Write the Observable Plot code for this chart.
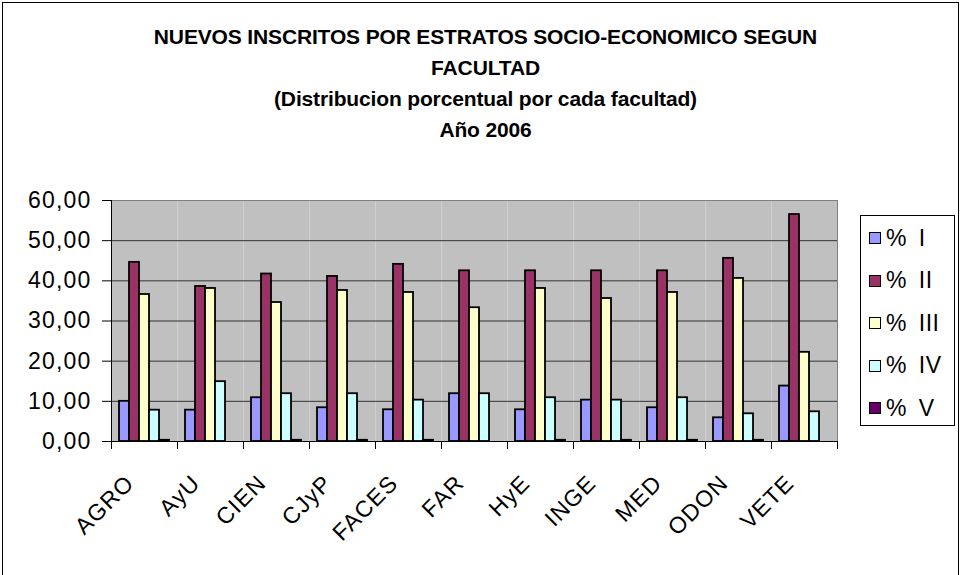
<!DOCTYPE html>
<html>
<head>
<meta charset="utf-8">
<script src="https://cdn.jsdelivr.net/npm/d3@7"></script>
<script src="https://cdn.jsdelivr.net/npm/@observablehq/plot@0.6"></script>
<style>
  body { margin: 0; background: #fff; }
  #wrap { position: relative; width: 963px; height: 575px; overflow: hidden; background: #fff;
          font-family: Arial, "Liberation Sans", sans-serif; color: #000; }
  #plot { position: absolute; left: 0; top: 0; }
  #border { position: absolute; left: 2px; top: 2px; width: 957px; height: 620px;
            border: 1px solid #000; box-sizing: border-box; pointer-events: none; }
  #title { position: absolute; left: 4px; top: 21px; width: 963px; text-align: center;
           font-weight: bold; font-size: 21px; line-height: 31px; letter-spacing: -0.15px; }
  #legend { position: absolute; left: 860px; top: 215px; width: 95px; height: 211px;
            border: 1px solid #000; box-sizing: border-box; padding-top: 1px; background: #fff; }
  .item { height: 42.5px; display: flex; align-items: center; padding-left: 8px;
          font-size: 23px; letter-spacing: 0.5px; word-spacing: 5px; white-space: nowrap; }
  .sw { width: 10px; height: 10px; border: 1px solid #000; margin-right: 5px; flex: none; }
</style>
</head>
<body>
<div id="wrap">
  <div id="plot"></div>
  <div id="title"></div>
  <div id="legend"></div>
  <div id="border"></div>
</div>
<script>
// ---- data ----
const titleLines = [
  "NUEVOS INSCRITOS POR ESTRATOS SOCIO-ECONOMICO SEGUN",
  "FACULTAD",
  "(Distribucion porcentual por cada facultad)",
  "Año 2006"
];
const categories = ["AGRO", "AyU", "CIEN", "CJyP", "FACES", "FAR", "HyE", "INGE", "MED", "ODON", "VETE"];
const series = ["% I", "% II", "% III", "% IV", "% V"];
const pctI   = [10.0, 7.8, 10.9, 8.4, 7.9, 11.9, 7.9, 10.3, 8.4, 5.9, 13.8];
const pctII  = [44.6, 38.6, 41.7, 41.1, 44.1, 42.5, 42.5, 42.5, 42.5, 45.6, 56.5];
const pctIII = [36.6, 38.1, 34.6, 37.6, 37.1, 33.3, 38.1, 35.6, 37.1, 40.6, 22.2];
const pctIV  = [7.8, 14.9, 11.9, 11.9, 10.3, 11.9, 10.9, 10.3, 10.9, 6.9, 7.4];
const pctV   = [0.3, 0, 0.3, 0.3, 0.3, 0, 0.3, 0.3, 0.3, 0.3, 0];
const yTicks = [0, 10, 20, 30, 40, 50, 60];
const colors = ["#9999FF", "#993366", "#FFFFCC", "#CCFFFF", "#660066"];

const seriesValues = [pctI, pctII, pctIII, pctIV, pctV];
const rows = categories.flatMap((c, i) =>
  series.map((s, j) => ({cat: c, series: s, value: seriesValues[j][i]}))
).filter(d => d.value > 0);

const fmt = d => d.toFixed(2).replace(".", ",");

const W = 963, H = 575, mL = 110, mR = 125, mT = 200, mB = 134;
const half = Math.floor((W - mL - mR) / categories.length) / 2;

const chart = Plot.plot({
  width: W, height: H,
  marginLeft: mL, marginRight: mR, marginTop: mT, marginBottom: mB,
  style: {background: "transparent", color: "#000", fontFamily: "Arial, 'Liberation Sans', sans-serif", letterSpacing: "1.2px"},
  fx: {domain: categories, padding: 0, round: true, label: null},
  x: {domain: series, paddingInner: 0, paddingOuter: 0.75, axis: null},
  y: {domain: [0, 60], label: null},
  color: {domain: series, range: colors},
  marks: [
    Plot.frame({fill: "#C0C0C0", stroke: null}),
    Plot.gridY(yTicks.filter(t => t > 0 && t < 60), {stroke: "#333", strokeOpacity: 1}),
    Plot.frame({anchor: "top", stroke: "#808080"}),
    Plot.frame({anchor: "right", stroke: "#808080", fx: "VETE"}),
    Plot.barY(rows, {fx: "cat", x: "series", y: "value", fill: "series", stroke: "#000", strokeWidth: 1.8}),
    Plot.frame({anchor: "bottom", stroke: "#000"}),
    Plot.frame({anchor: "left", stroke: "#000", fx: "AGRO"}),
    Plot.axisY(yTicks, {tickSize: 9, tickPadding: 11, tickFormat: fmt, fontSize: 23, label: null}),
    Plot.axisFx({anchor: "bottom", text: null, tickSize: 8, dx: -half, label: null}),
    Plot.axisFx({anchor: "bottom", text: null, tickSize: 8, dx: half, label: null}),
    Plot.text(categories, {fx: d => d, text: d => d, frameAnchor: "bottom", rotate: -45,
      textAnchor: "end", lineAnchor: "bottom", dx: -9, dy: 43, fontSize: 23})
  ]
});
document.getElementById("plot").appendChild(chart);

document.getElementById("title").innerHTML = titleLines.map(t => `<div>${t}</div>`).join("");
const legend = document.getElementById("legend");
series.forEach((s, i) => {
  const item = document.createElement("div");
  item.className = "item";
  item.innerHTML = `<span class="sw" style="background:${colors[i]}"></span><span>${s}</span>`;
  legend.appendChild(item);
});
</script>
</body>
</html>
